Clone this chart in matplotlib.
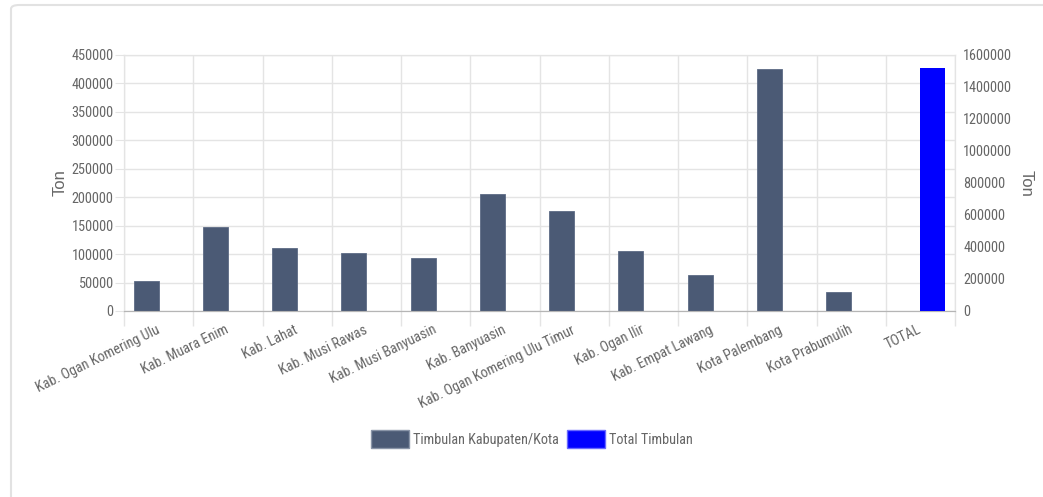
import matplotlib
matplotlib.use("Agg")
import matplotlib.pyplot as plt
import numpy as np
from matplotlib import font_manager as fm
from matplotlib.patches import FancyBboxPatch, Patch

CATEGORIES = [
    "Kab. Ogan Komering Ulu", "Kab. Muara Enim", "Kab. Lahat", "Kab. Musi Rawas",
    "Kab. Musi Banyuasin", "Kab. Banyuasin", "Kab. Ogan Komering Ulu Timur",
    "Kab. Ogan Ilir", "Kab. Empat Lawang", "Kota Palembang", "Kota Prabumulih", "TOTAL",
]
TIMBULAN = [53500, 146800, 111000, 102800, 93400, 205700, 175700,
            106300, 63500, 426000, 32900, 0]
TOTAL = [0, 0, 0, 0, 0, 0, 0, 0, 0, 0, 0, 1520000]

LEFT_TICKS = list(range(0, 450001, 50000))
RIGHT_TICKS = list(range(0, 1600001, 200000))

SLATE, BLUE = "#4b5a75", "#0000ff"
TXT, GRID = "#666666", "#e4e4e4"


def pick_font():
    # the source uses a narrow sans; take a condensed face if one is installed
    wanted = ["LiberationSansNarrow-Regular", "RobotoCondensed-Regular",
              "OpenSans_Condensed-Regular", "DejaVuSansCondensed."]
    for key in wanted:
        for f in fm.fontManager.ttflist:
            if key.lower() in f.fname.replace(" ", "").lower():
                return f.name, f.stretch
    return "Liberation Sans", "normal"


name, stretch = pick_font()
plt.rcParams["font.family"] = [name, "Liberation Sans", "DejaVu Sans"]
plt.rcParams["font.stretch"] = stretch

fig = plt.figure(figsize=(10.43, 4.97), dpi=100)

# size the text so that "450000" comes out about as wide as in the source
_r = fig.canvas.get_renderer()
_t = fig.text(0, 0, "450000", fontsize=10)
FS = 10 * 42.0 / _t.get_window_extent(_r).width
_t.remove()

ax = fig.add_axes([124 / 1043, 1 - 311 / 497, 831 / 1043, 256 / 497])
ax2 = ax.twinx()

x = np.arange(len(CATEGORIES))
w = 0.36
ax.bar(x - w / 2, TIMBULAN, w, color=SLATE, edgecolor="#5d6b85", linewidth=0.6, zorder=3)
ax2.bar(x + w / 2, TOTAL, w, color=BLUE, linewidth=0, zorder=3)

ax.set_xlim(-0.5, len(CATEGORIES) - 0.5)
ax.set_ylim(0, 450000)
ax2.set_ylim(0, 1600000)

# category boundaries as minor ticks carry the vertical grid
ax.set_xticks(x)
ax.set_xticks(np.arange(-0.5, len(CATEGORIES), 1.0), minor=True)
ax.set_xticklabels(CATEGORIES, rotation=26, ha="right", va="center",
                   rotation_mode="anchor", fontsize=FS, color=TXT)
ax.tick_params(axis="x", which="major", length=0, pad=13)
ax.tick_params(axis="x", which="minor", length=11, color=GRID, width=1)
ax.grid(True, axis="x", which="minor", color=GRID, lw=1, zorder=0)
ax.grid(False, axis="x", which="major")

ax.set_yticks(LEFT_TICKS)
ax.set_yticklabels([str(v) for v in LEFT_TICKS], fontsize=FS, color=TXT)
ax.tick_params(axis="y", length=6.5, color=GRID, pad=1)
ax.grid(True, axis="y", color=GRID, lw=1, zorder=0)

ax2.set_yticks(RIGHT_TICKS)
ax2.set_yticklabels([str(v) for v in RIGHT_TICKS], fontsize=FS, color=TXT)
ax2.tick_params(axis="y", length=0, pad=6)

for a in (ax, ax2):
    for s in a.spines.values():
        s.set_color(GRID)
    a.spines["bottom"].set_color("#b5b5b5")
ax.set_axisbelow(True)

# axis titles are wide-set in the source, so use the regular face
ax.set_ylabel("Ton", fontsize=12, color=TXT, family="Liberation Sans", va="center")
ax.yaxis.set_label_coords((60.5 - 124) / 831, 0.5)
ax2.set_ylabel("Ton", fontsize=12, color=TXT, family="Liberation Sans",
               rotation=-90, va="center")
ax2.yaxis.set_label_coords((1026 - 124) / 831, 0.5)

handles = [Patch(facecolor=SLATE, edgecolor="#8a95a8", lw=1, label="Timbulan Kabupaten/Kota"),
           Patch(facecolor=BLUE, edgecolor="#6a6aff", lw=1, label="Total Timbulan")]
fig.legend(handles=handles, loc="center", bbox_to_anchor=(532 / 1043, 1 - 439 / 497),
           ncol=2, frameon=False, fontsize=FS, labelcolor=TXT,
           handlelength=38 / (FS * 100 / 72), handleheight=22 / (FS * 100 / 72),
           handletextpad=0.25, columnspacing=0.6)

# card outline
card = FancyBboxPatch((11 / 1043, -0.05), 1.1, 1 - 5 / 497 + 0.05,
                      boxstyle="round,pad=0,rounding_size=0.008",
                      transform=fig.transFigure, fill=False,
                      edgecolor="#e2e2e2", lw=1.5, clip_on=False)
fig.add_artist(card)

fig.savefig("out.png", dpi=100)
